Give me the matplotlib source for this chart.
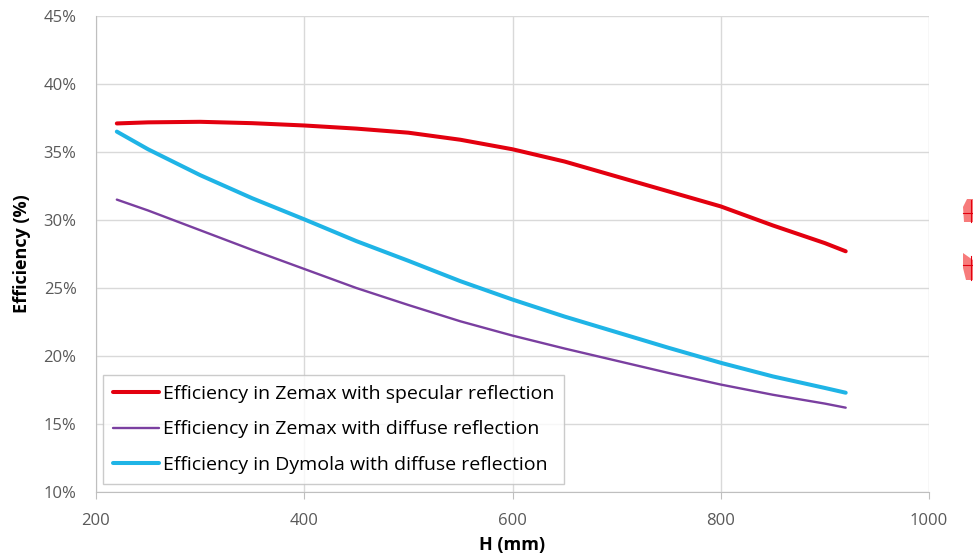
import matplotlib
matplotlib.use("Agg")
import matplotlib.pyplot as plt
from matplotlib.patches import Polygon
from matplotlib.lines import Line2D

# Data
h_mm = [220, 250, 300, 350, 400, 450, 500, 550, 600, 650, 700, 750, 800, 850, 900, 920]
zemax_specular = [37.1, 37.18, 37.22, 37.12, 36.95, 36.72, 36.42, 35.9, 35.2, 34.3, 33.2, 32.1, 31.0, 29.6, 28.3, 27.7]
zemax_diffuse = [31.5, 30.7, 29.25, 27.8, 26.4, 25.0, 23.75, 22.55, 21.5, 20.55, 19.65, 18.75, 17.9, 17.15, 16.5, 16.2]
dymola_diffuse = [36.5, 35.2, 33.3, 31.6, 30.05, 28.45, 27.0, 25.5, 24.15, 22.9, 21.75, 20.6, 19.5, 18.5, 17.65, 17.3]

series_labels = [
    "Efficiency in Zemax with specular reflection",
    "Efficiency in Zemax with diffuse reflection",
    "Efficiency in Dymola with diffuse reflection",
]
x_ticks = [200, 400, 600, 800, 1000]
y_ticks = [10, 15, 20, 25, 30, 35, 40, 45]

plt.rcParams['font.family'] = ['Open Sans', 'DejaVu Sans']

fig = plt.figure(figsize=(9.73, 5.6), dpi=100)
ax = fig.add_axes([96/973, 1-492/560, (929-96)/973, (492-16)/560])

ax.plot(h_mm, zemax_specular, color="#e3000f", lw=2.9, label=series_labels[0],
        solid_capstyle='round', solid_joinstyle='round')
ax.plot(h_mm, zemax_diffuse, color="#7a3fa0", lw=1.7, label=series_labels[1],
        solid_capstyle='round', solid_joinstyle='round')
ax.plot(h_mm, dymola_diffuse, color="#1fb4e6", lw=2.9, label=series_labels[2],
        solid_capstyle='round', solid_joinstyle='round')

ax.set_xlim(200, 1000)
ax.set_ylim(10, 45)
ax.set_xticks(x_ticks)
ax.set_yticks(y_ticks)
ax.set_yticklabels([f"{v}%" for v in y_ticks])
ax.grid(True, color="#d9d9d9", lw=1.0)
ax.set_axisbelow(True)
for s in ["top", "right"]:
    ax.spines[s].set_visible(False)
for s in ["left", "bottom"]:
    ax.spines[s].set_color("#bfbfbf")
ax.tick_params(axis='x', colors="#595959", labelsize=12, length=5, direction='out', color="#bfbfbf", pad=10)
ax.tick_params(axis='y', colors="#595959", labelsize=12, length=0, pad=14)

ax.set_xlabel("H (mm)", fontsize=13, fontweight='bold', color="#000000", labelpad=5)
ax.set_ylabel("Efficiency (%)", fontsize=13, fontweight='bold', color="#000000", labelpad=9)

leg = ax.legend(loc='lower left', bbox_to_anchor=(0.0084, 0.0168), fontsize=14,
                frameon=True, fancybox=False, edgecolor="#bfbfbf", handlelength=2.4,
                handletextpad=0.2, borderpad=0.5, labelspacing=0.92, borderaxespad=0)
leg.get_frame().set_linewidth(1.0)

# small red shapes at the right edge
def fpx(pts):
    return [(x/973, 1 - y/560) for x, y in pts]
shape1 = fpx([(967, 199), (973, 199), (973, 222), (964, 222), (963, 207)])
shape2 = fpx([(963, 253), (973, 260), (973, 280), (966, 280), (963, 268)])
for shp in (shape1, shape2):
    fig.patches.append(Polygon(shp, closed=True, transform=fig.transFigure,
                               facecolor="#f77b7b", edgecolor="none", figure=fig))
fig.lines.append(Line2D([970.5/973, 970.5/973], [1-200/560, 1-222/560], transform=fig.transFigure, color="#e3000f", lw=0.8))
fig.lines.append(Line2D([963/973, 973/973], [1-213/560, 1-213/560], transform=fig.transFigure, color="#e3000f", lw=0.8))
fig.lines.append(Line2D([970.5/973, 970.5/973], [1-256/560, 1-280/560], transform=fig.transFigure, color="#e3000f", lw=0.8))
fig.lines.append(Line2D([963/973, 973/973], [1-265/560, 1-265/560], transform=fig.transFigure, color="#e3000f", lw=0.8))

fig.savefig("out.png", dpi=100)
